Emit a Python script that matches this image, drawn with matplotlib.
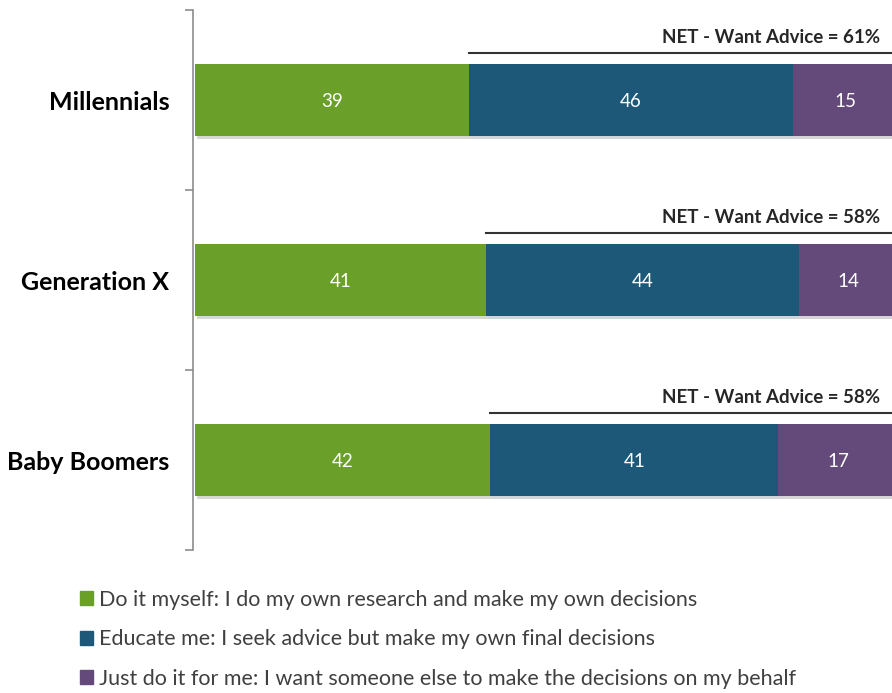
import matplotlib.pyplot as plt
import matplotlib.patheffects as pe
from matplotlib.patches import Patch
import numpy as np

plt.rcParams['font.family'] = ['Lato', 'DejaVu Sans']

groups = ['Millennials', 'Generation X', 'Baby Boomers']
do_myself = [39, 41, 42]
educate_me = [46, 44, 41]
do_for_me = [15, 14, 17]
net_advice = [61, 58, 58]

labels = ['Do it myself: I do my own research and make my own decisions',
          'Educate me: I seek advice but make my own final decisions',
          'Just do it for me: I want someone else to make the decisions on my behalf']
colors = ['#6a9f29', '#1d5879', '#634a7b']

series = np.array([do_myself, educate_me, do_for_me], dtype=float)
# bars are drawn as 100% stacked
shares = series / series.sum(axis=0) * 100

fig = plt.figure(figsize=(8.92, 6.93), dpi=100)
ax = fig.add_axes([193 / 892, (693 - 550) / 693, 699 / 892, 540 / 693])

y = np.arange(len(groups))
shadow = [pe.SimplePatchShadow(offset=(1.5, -2.5), alpha=0.18), pe.Normal()]
left = np.zeros(len(groups))
for k in range(3):
    ax.barh(y, shares[k], left=left, height=0.4, color=colors[k],
            path_effects=shadow, zorder=2)
    for i in range(len(groups)):
        ax.text(left[i] + shares[k][i] / 2, y[i], str(int(series[k][i])),
                color='white', ha='center', va='center_baseline',
                fontsize=13.5, zorder=3)
    left = left + shares[k]

for i in range(len(groups)):
    start = shares[0][i]
    ax.plot([start, 100], [y[i] - 0.262, y[i] - 0.262], color='#333333',
            lw=1.5, zorder=3, clip_on=False)
    ax.text(97.4, y[i] - 0.3, 'NET - Want Advice = %d%%' % net_advice[i],
            ha='right', va='bottom', fontsize=13.5, fontweight='bold',
            color='#262626')

ax.set_xlim(-0.28, 99.15)
ax.set_ylim(2.5, -0.5)
ax.set_xticks([])
ax.set_yticks([-0.5, 0.5, 1.5, 2.5])
ax.set_yticklabels([])
ax.set_yticks(y, minor=True)
ax.set_yticklabels(groups, minor=True, fontsize=18, fontweight='bold')
ax.tick_params(axis='y', which='major', length=6, color='#8c8c8c', width=1.2)
ax.tick_params(axis='y', which='minor', length=0, pad=17)
for s in ['top', 'right', 'bottom']:
    ax.spines[s].set_visible(False)
ax.spines['left'].set_color('#8c8c8c')
ax.spines['left'].set_linewidth(1.2)

handles = [Patch(color=c) for c in colors]
fig.legend(handles=handles, labels=labels, loc='upper left',
           bbox_to_anchor=(67 / 892, 1 - 577 / 693), frameon=False,
           fontsize=15.5, handlelength=0.6, handleheight=0.6,
           handletextpad=0.3, labelspacing=0.9, labelcolor='#404040',
           borderaxespad=0.2)

fig.savefig('out.png', dpi=100)
